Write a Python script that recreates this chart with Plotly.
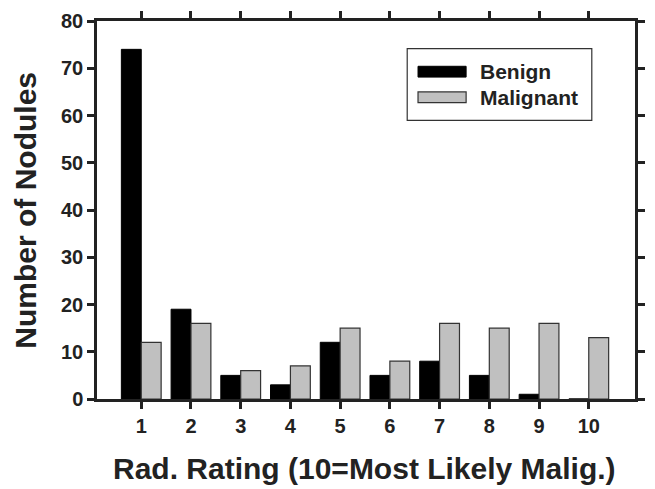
import plotly.graph_objects as go

ratings = [1, 2, 3, 4, 5, 6, 7, 8, 9, 10]
benign = [74, 19, 5, 3, 12, 5, 8, 5, 1, 0]
malignant = [12, 16, 6, 7, 15, 8, 16, 15, 16, 13]
series_names = ["Benign", "Malignant"]
y_ticks = [0, 10, 20, 30, 40, 50, 60, 70, 80]

FONT = "Liberation Sans, Arial, sans-serif"
AX = "#222222"
TXT = "#222222"
BLACK = "#000000"
GRAY = "#c0c0c0"

fig = go.Figure()
fig.add_trace(go.Bar(x=ratings, y=benign, name=series_names[0],
                     marker=dict(color=BLACK, line=dict(color=BLACK, width=1)),
                     showlegend=False))
fig.add_trace(go.Bar(x=ratings, y=malignant, name=series_names[1],
                     marker=dict(color=GRAY, line=dict(color="#333333", width=1.2)),
                     showlegend=False))

# custom legend (wide swatches like the original)
fig.add_shape(type="rect", xref="paper", yref="paper", x0=0.5766, x1=0.9197,
              y0=0.737, y1=0.9271, line=dict(color="#333333", width=1.2),
              fillcolor="white")
fig.add_shape(type="rect", xref="paper", yref="paper", x0=0.5967, x1=0.6861,
              y0=0.8516, y1=0.8802, line=dict(color=BLACK, width=1), fillcolor=BLACK)
fig.add_shape(type="rect", xref="paper", yref="paper", x0=0.5967, x1=0.6861,
              y0=0.7839, y1=0.8125, line=dict(color="#333333", width=1.2), fillcolor=GRAY)
for name, yc in zip(series_names, [0.8659, 0.7982]):
    fig.add_annotation(xref="paper", yref="paper", x=0.708, y=yc, text=name,
                       showarrow=False, xanchor="left", yanchor="middle",
                       font=dict(family=FONT, size=21, color=TXT, weight="bold"))

# axis titles
fig.add_annotation(xref="paper", yref="paper", x=0.4967, y=-0.1839,
                   text="Rad. Rating (10=Most Likely Malig.)", showarrow=False,
                   xanchor="center", yanchor="middle",
                   font=dict(family=FONT, size=30, color=TXT, weight="bold"))
fig.add_annotation(xref="paper", yref="paper", x=-0.132, y=0.5008,
                   text="Number of Nodules", showarrow=False, textangle=-90,
                   xanchor="center", yanchor="middle",
                   font=dict(family=FONT, size=30, color=TXT, weight="bold"))

axis_common = dict(showline=True, linecolor=AX, linewidth=2.5, ticks="outside",
                   ticklen=7, tickwidth=2.5, tickcolor=AX, mirror="ticks",
                   showgrid=False, zeroline=False,
                   tickfont=dict(family=FONT, size=20, color=TXT, weight="bold"))

fig.update_layout(
    width=655, height=489,
    margin=dict(l=97, r=10, t=15, b=90),
    paper_bgcolor="white", plot_bgcolor="white",
    barmode="group", bargap=0.2, bargroupgap=0,
    xaxis=dict(range=[0.11, 10.93], tickvals=ratings, ticktext=[str(r) for r in ratings],
               **axis_common),
    yaxis=dict(range=[0, 80], tickvals=y_ticks, **axis_common),
)

fig.write_html("out.html")
